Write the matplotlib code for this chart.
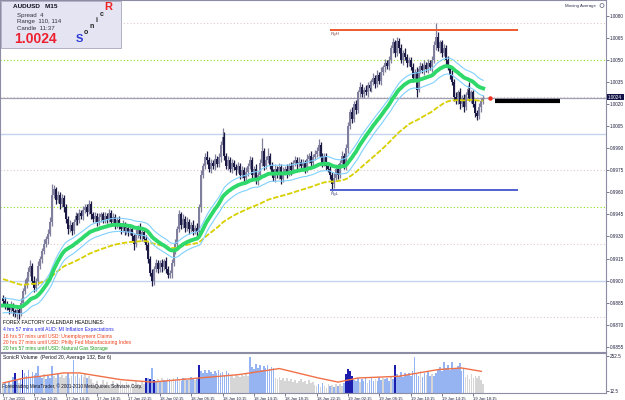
import matplotlib
matplotlib.use("Agg")
import matplotlib.pyplot as plt
import numpy as np
from matplotlib.patches import Rectangle, Circle

W, H = 625, 400
FONT = "Liberation Sans"

# ---------------- data (prices in pips: price = pips / 10000) ----------------
first_open = 9888
close_pips = [
    9886, 9884, 9882, 9880, 9883, 9879, 9877, 9880,
    9878, 9885, 9893, 9898, 9902, 9906, 9910, 9900,
    9895, 9900, 9910, 9915, 9920, 9925, 9928, 9932,
    9940, 9958, 9962, 9955, 9958, 9952, 9956, 9950,
    9942, 9935, 9938, 9934, 9940, 9944, 9941, 9946,
    9944, 9948, 9950, 9947, 9952, 9945, 9942, 9944,
    9940, 9943, 9945, 9941, 9944, 9942, 9946, 9940,
    9943, 9938, 9941, 9937, 9935, 9938, 9934, 9936,
    9933, 9935, 9930, 9925, 9932, 9936, 9930, 9933,
    9928, 9924, 9915, 9905, 9900, 9908, 9912, 9908,
    9912, 9909, 9913, 9908, 9904, 9905, 9912, 9920,
    9925, 9935, 9945, 9938, 9942, 9936, 9940, 9935,
    9938, 9934, 9936, 9933, 9950, 9972, 9978, 9984,
    9982, 9976, 9980, 9978, 9983, 9979, 9984, 9992,
    9998, 9985, 9978, 9982, 9976, 9980, 9977, 9975,
    9978, 9972, 9975, 9970, 9974, 9978, 9982, 9972,
    9976, 9968, 9972, 9980, 9988, 9978, 9982, 9985,
    9978, 9974, 9970, 9976, 9972, 9977, 9969, 9974,
    9976, 9973, 9978, 9975, 9980, 9982, 9979, 9981,
    9978, 9980, 9976, 9983, 9985, 9980, 9984, 9986,
    9988, 9992, 9984, 9980, 9985, 9978, 9976, 9972,
    9966, 9970, 9976, 9972, 9980, 9985, 9978, 9990,
    10005, 10015, 10010, 10020, 10016, 10028, 10032, 10027,
    10030, 10028, 10033, 10031, 10035, 10038, 10034, 10040,
    10036, 10042, 10045, 10048, 10046, 10050, 10058, 10062,
    10055, 10063, 10058, 10050, 10055, 10052, 10048, 10050,
    10045, 10038, 10042, 10030, 10044, 10046, 10043, 10047,
    10044, 10048, 10045, 10050, 10060, 10066, 10058, 10062,
    10055, 10058, 10050, 10045, 10040, 10035, 10025, 10022,
    10028, 10020, 10024, 10018, 10026, 10030, 10024, 10028,
    10020, 10014, 10012, 10018, 10022, 10024,
]
upper_wick = [
    2, 3, 2, 1, 3, 2, 2, 3,  2, 3, 2, 3, 2, 3, 4, 2,  3, 2, 3, 2, 2, 3, 2, 3,
    3, 8, 3, 2, 3, 2, 3, 2,  2, 2, 3, 2, 2, 3, 2, 3,  2, 3, 2, 2, 3, 2, 2, 3,
    2, 3, 2, 2, 3, 2, 3, 2,  3, 2, 2, 3, 2, 3, 2, 2,  2, 3, 2, 2, 3, 2, 3, 2,
    2, 3, 2, 2, 3, 2, 3, 2,  2, 3, 2, 3, 2, 2, 3, 2,  3, 2, 3, 2, 3, 2, 3, 2,
    2, 3, 2, 3, 2, 3, 2, 3,  4, 2, 3, 2, 3, 2, 3, 3,  6, 3, 2, 3, 2, 3, 2, 2,
    3, 2, 3, 2, 3, 2, 3, 2,  2, 3, 2, 3, 9, 2, 3, 5,  2, 3, 2, 3, 2, 3, 2, 3,
    2, 3, 2, 3, 2, 3, 2, 3,  2, 3, 2, 3, 2, 3, 2, 3,  3, 4, 2, 3, 2, 2, 3, 2,
    2, 3, 2, 3, 2, 3, 2, 3,  3, 2, 3, 2, 3, 2, 3, 2,  2, 3, 2, 3, 2, 3, 2, 3,
    2, 3, 2, 3, 2, 3, 2, 3,  2, 3, 2, 3, 2, 3, 2, 2,  2, 3, 2, 3, 2, 3, 2, 3,
    2, 3, 2, 3, 3, 9, 3, 2,  2, 3, 2, 3, 2, 3, 2, 3,  2, 3, 2, 3, 2, 3, 5, 2,
    2, 3, 2, 3, 2, 2,
]
lower_wick = [
    2, 3, 2, 3, 2, 3, 2, 3,  4, 2, 3, 2, 3, 2, 3, 2,  3, 2, 3, 2, 3, 2, 2, 3,
    2, 3, 2, 3, 2, 3, 2, 3,  3, 3, 2, 3, 2, 2, 3, 2,  2, 3, 2, 3, 2, 3, 2, 2,
    3, 2, 3, 2, 2, 3, 2, 3,  2, 3, 2, 2, 3, 2, 3, 2,  3, 2, 3, 4, 2, 3, 2, 3,
    2, 3, 3, 2, 4, 3, 2, 3,  2, 3, 2, 3, 2, 2, 3, 2,  2, 3, 2, 3, 2, 3, 2, 3,
    2, 3, 2, 3, 2, 3, 2, 2,  3, 2, 3, 2, 3, 2, 2, 3,  2, 3, 2, 3, 2, 3, 2, 3,
    2, 3, 2, 3, 2, 3, 2, 3,  3, 2, 3, 2, 2, 3, 2, 2,  2, 3, 2, 3, 2, 3, 3, 2,
    2, 3, 2, 3, 2, 2, 3, 2,  3, 2, 3, 2, 3, 2, 3, 2,  2, 3, 2, 3, 2, 3, 2, 3,
    5, 3, 2, 3, 2, 3, 2, 3,  3, 2, 3, 2, 3, 2, 3, 2,  3, 2, 3, 2, 3, 2, 3, 2,
    2, 3, 2, 3, 2, 3, 2, 3,  3, 2, 3, 2, 3, 2, 3, 2,  2, 3, 2, 5, 2, 3, 2, 3,
    2, 3, 2, 3, 2, 3, 2, 3,  3, 2, 3, 2, 3, 2, 3, 2,  2, 3, 2, 3, 2, 3, 2, 3,
    2, 3, 3, 2, 3, 2,
]

# indicator start values (pips) at the first bar
ema34_close_start = 9883
ema34_high_start = 9888
ema34_low_start = 9878
ema89_start = 9901

volume = [
    50, 70, 40, 80, 60, 110, 138, 90, 70, 95, 161,
    140, 120, 155, 110, 145, 125, 135, 184,
    120, 100, 130, 95, 115, 105, 184,
    120, 105, 130, 110, 125, 100, 115, 135, 105, 120, 230,
    115, 130, 100, 125, 110, 135, 105, 120, 95,
    70, 55, 85, 45, 65, 90, 50, 75, 40, 60, 80, 55, 70, 45, 85, 60, 50, 75, 65, 40, 70, 55, 80, 60, 45, 75, 65,
    100, 105, 95, 175, 90,
    85, 95, 75, 100, 90, 80, 105, 95, 85, 100, 90, 110, 95, 85, 100, 105, 90, 95, 110, 100, 90, 105,
    195,
    150, 140, 160, 135, 155, 145, 130, 150, 140, 160, 135, 145, 125, 150, 140,
    115, 125, 105, 130, 120, 110, 125, 115, 130, 120,
    250,
    180, 165, 200, 170, 190, 160, 185, 175, 195, 165, 180, 170,
    105, 95, 110, 90, 100, 80, 105, 85, 95, 75, 90, 70, 85, 95, 75, 80, 65, 90, 70, 75,
    55, 45, 65, 40, 70, 50, 35, 60, 45, 55, 40, 65, 50, 60, 45, 70,
    130, 165, 150, 120,
    90, 80, 100, 75, 95, 85, 105, 70, 90, 100, 80, 95, 85, 110, 90, 100, 95, 105, 85, 110, 95,
    195,
    130, 120, 145, 110, 140, 125, 135, 115, 150,
    245,
    140, 120, 150, 110, 135, 125, 145, 115, 130, 120, 140,
    160, 180, 150, 210, 170, 190, 155, 215, 175, 165, 185, 205, 150, 170,
    110, 125, 95, 130, 105, 120, 100, 115, 90, 60,
]
# g = grey, b = blue, d = dark blue
volume_kind = (
    "gbgbg" + "bd" + "bgb" + "d" + "bbbbbbb" + "b" + "bbgbbb" + "b"
    + "ggbggggbgg" + "b" + "gbgbggbgg" + "g" * 27 + "dbdbd"
    + "bgbgbbgbggbbgbbgbgbbgb" + "d" + "b" * 15 + "g" * 10 + "b" + "b" * 12
    + "g" * 20 + "ggbgbgggbgbgbggb" + "dddd" + "bbbgbbbgbbbgbbbgbbbgb" + "d"
    + "b" * 9 + "b" + "bbgbbgbbgbb" + "b" * 14 + "g" * 10
)
avg_bar = [0, 11, 19, 31, 39, 60, 76, 100, 120, 141, 161, 171, 181, 202, 222, 234, 244]
avg_volume = [69, 103, 115, 138, 138, 92, 75, 103, 126, 168, 103, 75, 103, 115, 161, 172, 149]

price_tick_labels = ["1.0080", "1.0065", "1.0050", "1.0035", "1.0020", "1.0005", "0.9990",
                     "0.9975", "0.9960", "0.9945", "0.9930", "0.9915", "0.9900", "0.9885",
                     "0.9870", "0.9855"]
time_labels = ["17 Jan 2011", "17 Jan 10:15", "17 Jan 14:15", "17 Jan 18:15", "17 Jan 22:15",
               "18 Jan 02:15", "18 Jan 06:15", "18 Jan 10:15", "18 Jan 14:15", "18 Jan 18:15",
               "18 Jan 22:15", "19 Jan 02:15", "19 Jan 06:15", "19 Jan 10:15", "19 Jan 14:15",
               "19 Jan 18:15"]

round_levels = [1.0000, 0.9900]
fifty_levels = [1.0050, 0.9950]
quarter_levels = [1.0075, 1.0025, 0.9975, 0.9925, 0.9875]
range_high = 1.00705
range_low = 0.99616
bid_price = 1.00245
target_level = 1.0022
last_price_text = "1.0024"

headlines = [
    ("FOREX FACTORY CALENDAR HEADLINES:", "#000000"),
    ("4 hrs 57 mins until AUD: MI Inflation Expectations", "#2a2ae8"),
    ("16 hrs 57 mins until USD: Unemployment Claims", "#f0401a"),
    ("20 hrs 27 mins until USD: Philly Fed Manufacturing Index", "#f0401a"),
    ("20 hrs 57 mins until USD: Natural Gas Storage", "#1e9e1e"),
]

# ---------------- derived ----------------
c = np.array(close_pips, float) / 1e4
o = np.r_[first_open / 1e4, c[:-1]]
hi = np.maximum(o, c) + np.array(upper_wick) / 1e4
lo = np.minimum(o, c) - np.array(lower_wick) / 1e4
n = len(c)
x = np.arange(n)


def ema(vals, period, start):
    a = 2.0 / (period + 1)
    out = np.empty(len(vals))
    prev = start
    for k, v in enumerate(vals):
        prev = prev + a * (v - prev) if k > 0 else start
        out[k] = prev
    return out


ema_c = ema(c, 34, ema34_close_start / 1e4)
ema_h = ema(hi, 34, ema34_high_start / 1e4)
ema_l = ema(lo, 34, ema34_low_start / 1e4)
ema89 = ema(c, 89, ema89_start / 1e4)

# ---------------- figure ----------------
fig = plt.figure(figsize=(W / 100, H / 100), dpi=100)
fig.patch.set_facecolor("white")


def px_axes(x0, y0, x1, y1):
    return fig.add_axes([x0 / W, 1 - y1 / H, (x1 - x0) / W, (y1 - y0) / H])


PX_PER_BAR = 1.96
X0 = 3.0
AX_RIGHT = 606


def bar_of_px(px):
    return (px - X0) / PX_PER_BAR


xlim = (bar_of_px(0), bar_of_px(AX_RIGHT))

ax = px_axes(0, 0, AX_RIGHT, 352)
axv = px_axes(0, 353, AX_RIGHT, 393)

# price scale: 1.0080 at y=16 px, 14.7 px per 10 pips
ptop = 1.0080 + 16 / 14700
pbot = 1.0080 - (352 - 16) / 14700
ax.set_xlim(*xlim)
ax.set_ylim(pbot, ptop)

frame_col = "#8c8ca4"
for a in (ax, axv):
    for s in a.spines.values():
        s.set_color(frame_col)
        s.set_linewidth(0.8)
    a.set_facecolor("white")

# level lines
for lv in round_levels:
    ax.axhline(lv, color="#c4d4f0", lw=1.0, zorder=1)
for lv in fifty_levels:
    ax.axhline(lv, color="#88e020", lw=0.8, ls=(0, (1, 2)), zorder=1)
for lv in quarter_levels:
    ax.axhline(lv, color="#e0c8c8", lw=0.8, ls=(0, (1, 2)), zorder=1)
ax.axhline(bid_price, color="#a0a0b4", lw=0.9, zorder=1.5)

# candles
bull = c >= o
cols = np.where(bull, "#80809e", "#1a1a44")
ax.vlines(x, lo, hi, colors=cols, lw=0.9, zorder=3)
body = np.maximum(np.abs(c - o), 0.00006)
ax.bar(x, body, bottom=np.minimum(o, c), width=1.0, color=cols, linewidth=0, zorder=3)

# moving averages
ax.plot(x, ema89, color="#d8d000", lw=1.3, ls=(0, (3, 1)), zorder=4)
ax.plot(x, ema_h, color="#7fd0ff", lw=0.8, zorder=4)
ax.plot(x, ema_l, color="#7fd0ff", lw=0.8, zorder=4)
ax.plot(x, ema_c, color="#2ed86a", lw=2.8, zorder=5)

# range lines
rg_start, rg_end = bar_of_px(330), bar_of_px(518)
ax.hlines(range_high, rg_start, rg_end, color="#ee5a30", lw=1.4, zorder=4)
ax.hlines(range_low, rg_start, rg_end, color="#5060d0", lw=1.4, zorder=4)
ax.text(rg_start + 0.5, range_high - 0.00012, "RgH", fontsize=3.2, color="#884444",
        va="top", ha="left", family=FONT)
ax.text(rg_start + 0.5, range_low - 0.00012, "RgL", fontsize=3.2, color="#444488",
        va="top", ha="left", family=FONT)

# projection line and dot
ax.hlines(target_level, bar_of_px(495), bar_of_px(560), color="black", lw=3.0, zorder=6)
ax.plot([bar_of_px(490)], [bid_price], "o", color="#f03020", ms=3.2, mec="none", zorder=6)

# price axis
ax.yaxis.tick_right()
ticks = [float(t) for t in price_tick_labels]
ax.set_yticks(ticks)
ax.set_yticklabels(price_tick_labels)
ax.tick_params(axis="y", which="both", length=2, width=0.5, color="#404060",
               labelsize=3.3, labelcolor="#202040", pad=1)
for lab in ax.get_yticklabels():
    lab.set_family(FONT)
ax.set_xticks([])

# volume panel
vk = np.array(list(volume_kind))
vcol = np.where(vk == "d", "#1c1cae", np.where(vk == "b", "#96b4f2", "#d6d6d6"))
axv.set_xlim(*xlim)
axv.set_ylim(0, 275)
axv.bar(np.arange(len(volume)), volume, width=0.85, color=vcol, linewidth=0, zorder=2)
axv.plot(avg_bar, avg_volume, color="#f07048", lw=1.0, zorder=3)
axv.yaxis.tick_right()
axv.set_yticks([252.5, 12.5])
axv.set_yticklabels(["252.5", "12.5"])
axv.tick_params(axis="y", length=2, width=0.5, color="#404060", labelsize=3.3,
                labelcolor="#202040", pad=1)
tick_pos = [16 * k for k in range(len(time_labels))]
axv.set_xticks(tick_pos)
axv.set_xticklabels(time_labels)
axv.tick_params(axis="x", length=2, width=0.5, color="#404060", labelsize=3.0,
                labelcolor="#202040", pad=1)
for lab in axv.get_xticklabels():
    lab.set_family(FONT)
    lab.set_horizontalalignment("left")
for lab in axv.get_yticklabels():
    lab.set_family(FONT)

# ---------------- overlay in pixel coords ----------------
ov = fig.add_axes([0, 0, 1, 1])
ov.set_xlim(0, W)
ov.set_ylim(H, 0)
ov.axis("off")
ov.patch.set_alpha(0)
ov.set_zorder(10)

ov.add_patch(Rectangle((0.5, 0.5), 120, 47, fc="#e4e4f2", ec="#a8a8bc", lw=0.6))
ov.text(13, 6, "AUDUSD   M15", fontsize=4.6, weight="bold", color="#101020", va="center", family=FONT)
ov.text(17, 15, "Spread  4", fontsize=4.4, color="#303040", va="center", family=FONT)
ov.text(17, 22, "Range  110, 114", fontsize=4.4, color="#303040", va="center", family=FONT)
ov.text(17, 29, "Candle  11:37", fontsize=4.4, color="#303040", va="center", family=FONT)
ov.text(14, 39, last_price_text, fontsize=10, weight="bold", color="#ee2030", va="center", family=FONT)
ov.text(79, 39, "S", fontsize=8, weight="bold", color="#2a3ad8", va="center", ha="center", family=FONT)
ov.text(86, 32, "o", fontsize=5, weight="bold", color="#202020", va="center", ha="center", family=FONT)
ov.text(92, 26, "n", fontsize=5, weight="bold", color="#202020", va="center", ha="center", family=FONT)
ov.text(97, 20, "i", fontsize=5, weight="bold", color="#202020", va="center", ha="center", family=FONT)
ov.text(102, 15, "c", fontsize=5, weight="bold", color="#202020", va="center", ha="center", family=FONT)
ov.text(108, 7, "R", fontsize=8, weight="bold", color="#ee2020", va="center", ha="center", family=FONT)

ov.text(565, 5.5, "Moving Average", fontsize=3.2, color="#303050", va="center", family=FONT)
ov.add_patch(Circle((602, 5.5), 2.0, fc="none", ec="#606080", lw=0.5))

# last price box on axis
ov.add_patch(Rectangle((606.5, 94), 17, 6.2, fc="#121248", ec="none"))
ov.text(615, 97.2, last_price_text, fontsize=3.3, color="white", va="center", ha="center", family=FONT)

for k, (txt, col) in enumerate(headlines):
    ov.text(3, 322 + 6.3 * k + (1.5 if k else 0), txt, fontsize=3.6, color=col,
            va="center", family=FONT)

ov.text(3, 358, "SonicR Volume  (Period 20, Average 132, Bar 6)", fontsize=3.6,
        color="#101020", va="center", family=FONT)
ov.text(2, 386.5, "Forextrading MetaTrader, \u00a9 2001-2010 MetaQuotes Software Corp.",
        fontsize=3.3, color="#101020", va="center", family=FONT)

fig.savefig("out.png", dpi=100, facecolor="white")
